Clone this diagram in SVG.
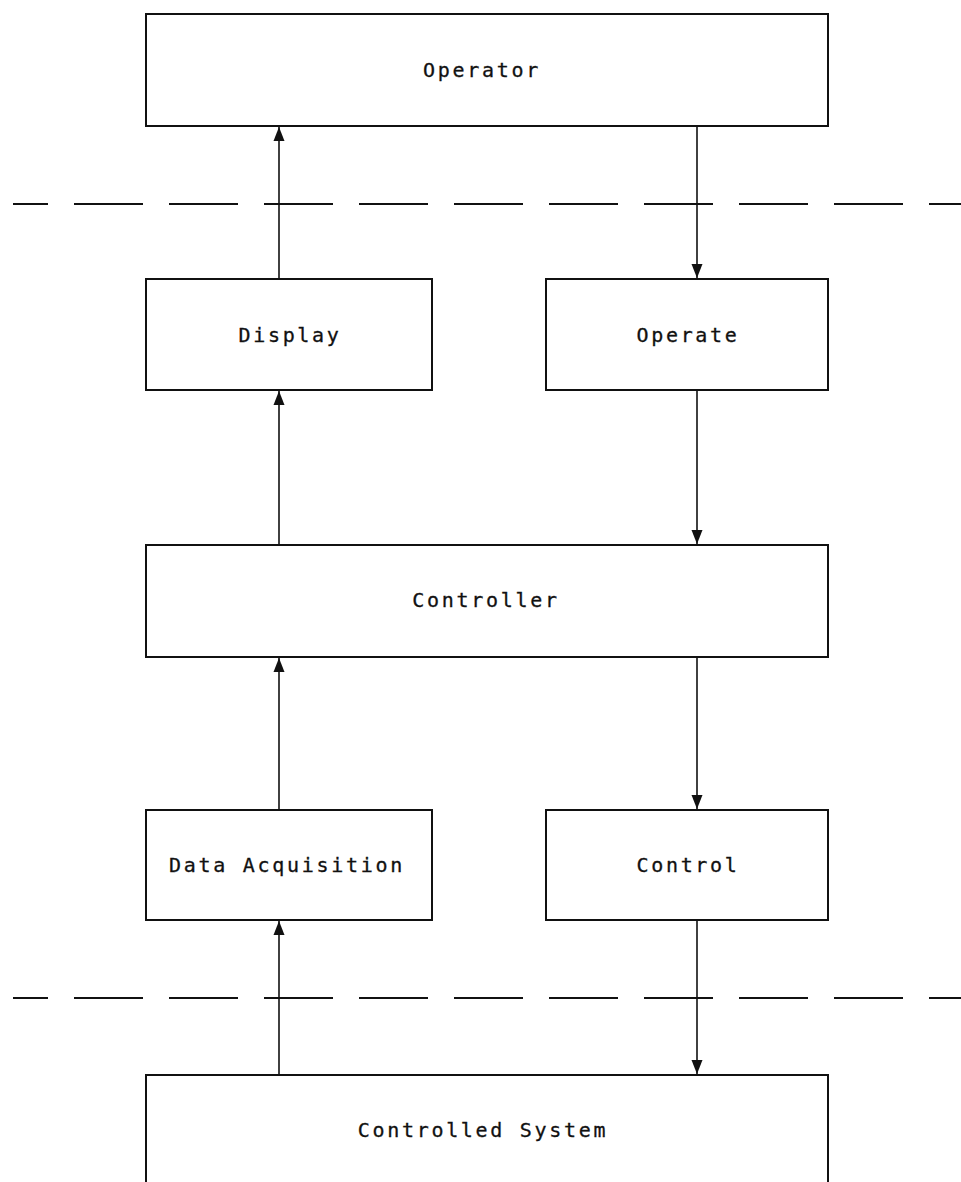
<svg xmlns="http://www.w3.org/2000/svg" width="961" height="1182" viewBox="0 0 961 1182">
<style>
.box{fill:#fff;stroke:#111;stroke-width:2}
.lbl{font-family:"DejaVu Sans Mono","Liberation Mono",monospace;font-size:20px;letter-spacing:2.7px;fill:#111;stroke:#111;stroke-width:0.3;text-anchor:middle}
.conn{stroke:#111;stroke-width:1.6;fill:none}
.dash{stroke:#111;stroke-width:2.2;stroke-dasharray:69 26;stroke-dashoffset:34;fill:none}
</style>
<defs>
<marker id="ah" viewBox="0 0 14 12" refX="14" refY="6" markerWidth="14" markerHeight="12" markerUnits="userSpaceOnUse" orient="auto">
<path d="M0,0.5 L14,6 L0,11.5 Z" fill="#111"/>
</marker>
</defs>
<rect width="961" height="1182" fill="#fff"/>
<g id="boundaries">
<path class="dash" d="M13,204 H961"/>
<path class="dash" d="M13,998 H961"/>
</g>
<g id="connectors">
<path class="conn" d="M279,279 V127" marker-end="url(#ah)"/>
<path class="conn" d="M279,545 V391" marker-end="url(#ah)"/>
<path class="conn" d="M279,810 V658" marker-end="url(#ah)"/>
<path class="conn" d="M279,1074 V921" marker-end="url(#ah)"/>
<path class="conn" d="M697,126 V278" marker-end="url(#ah)"/>
<path class="conn" d="M697,390 V544" marker-end="url(#ah)"/>
<path class="conn" d="M697,657 V809" marker-end="url(#ah)"/>
<path class="conn" d="M697,920 V1074" marker-end="url(#ah)"/>
</g>
<g id="operator"><rect class="box" x="146" y="14" width="682" height="112"/><text class="lbl" x="482" y="77">Operator</text></g>
<g id="display"><rect class="box" x="146" y="279" width="286" height="111"/><text class="lbl" x="290" y="342">Display</text></g>
<g id="operate"><rect class="box" x="546" y="279" width="282" height="111"/><text class="lbl" x="688" y="342">Operate</text></g>
<g id="controller"><rect class="box" x="146" y="545" width="682" height="112"/><text class="lbl" x="486" y="607">Controller</text></g>
<g id="data-acquisition"><rect class="box" x="146" y="810" width="286" height="110"/><text class="lbl" x="287" y="872">Data Acquisition</text></g>
<g id="control"><rect class="box" x="546" y="810" width="282" height="110"/><text class="lbl" x="688" y="872">Control</text></g>
<g id="controlled-system"><rect class="box" x="146" y="1075" width="682" height="130"/><text class="lbl" x="483" y="1137">Controlled System</text></g>
</svg>
